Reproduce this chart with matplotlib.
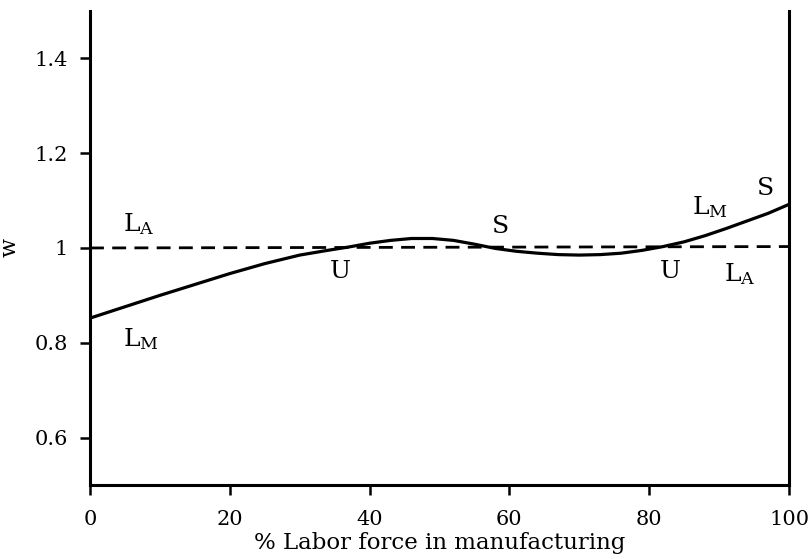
import numpy as np
import matplotlib
matplotlib.use("Agg")
import matplotlib.pyplot as plt

plt.rcParams["font.family"] = "DejaVu Serif"
plt.rcParams["mathtext.fontset"] = "dejavuserif"

# curve: wage ratio vs % labor in manufacturing
share = [0, 5, 10, 15, 20, 25, 30, 34, 37, 40, 43, 46, 49, 52, 55, 58, 61, 64,
         67, 70, 73, 76, 79, 82, 85, 88, 91, 94, 97, 100]
w_curve = [0.852, 0.876, 0.900, 0.923, 0.946, 0.967, 0.985, 0.995, 1.002, 1.010,
           1.016, 1.020, 1.020, 1.016, 1.008, 0.999, 0.993, 0.989, 0.986, 0.985,
           0.986, 0.989, 0.995, 1.003, 1.013, 1.026, 1.041, 1.057, 1.073, 1.092]
flat_x = [0, 100]
flat_w = [1.0, 1.003]

yticks = [0.6, 0.8, 1.0, 1.2, 1.4]
ytick_labels = ["0.6", "0.8", "1", "1.2", "1.4"]
xticks = [0, 20, 40, 60, 80, 100]

fig = plt.figure(figsize=(8.08, 5.59), dpi=100)
ax = fig.add_axes([0.1114, 0.1324, 0.8651, 0.848])

ax.plot(share, w_curve, color="black", lw=2.3, solid_capstyle="butt")
ax.plot(flat_x, flat_w, color="black", lw=2.0, ls=(0, (5, 3)))

ax.set_xlim(0, 100)
ax.set_ylim(0.5, 1.5)
ax.set_xticks(xticks)
ax.set_yticks(yticks)
ax.set_yticklabels(ytick_labels)
ax.spines["top"].set_visible(False)
for s in ["left", "right", "bottom"]:
    ax.spines[s].set_linewidth(2.2)
ax.tick_params(direction="out", length=7, width=1.8, labelsize=15)
ax.tick_params(axis="x", pad=11)
ax.tick_params(axis="y", pad=9)

ax.set_xlabel("% Labor force in manufacturing", fontsize=16.5, labelpad=2)
ax.set_ylabel("w", fontsize=16, labelpad=10)

# region labels
lbl = dict(fontsize=18, ha="center", va="center")
ax.text(7.0, 1.051, r"$\mathrm{L_A}$", **lbl)
ax.text(7.3, 0.807, r"$\mathrm{L_M}$", **lbl)
ax.text(35.8, 0.951, "U", **lbl)
ax.text(58.7, 1.045, "S", **lbl)
ax.text(83.0, 0.951, "U", **lbl)
ax.text(93.0, 0.945, r"$\mathrm{L_A}$", **lbl)
ax.text(88.7, 1.087, r"$\mathrm{L_M}$", **lbl)
ax.text(96.7, 1.125, "S", **lbl)

fig.savefig("out.png", dpi=100)
